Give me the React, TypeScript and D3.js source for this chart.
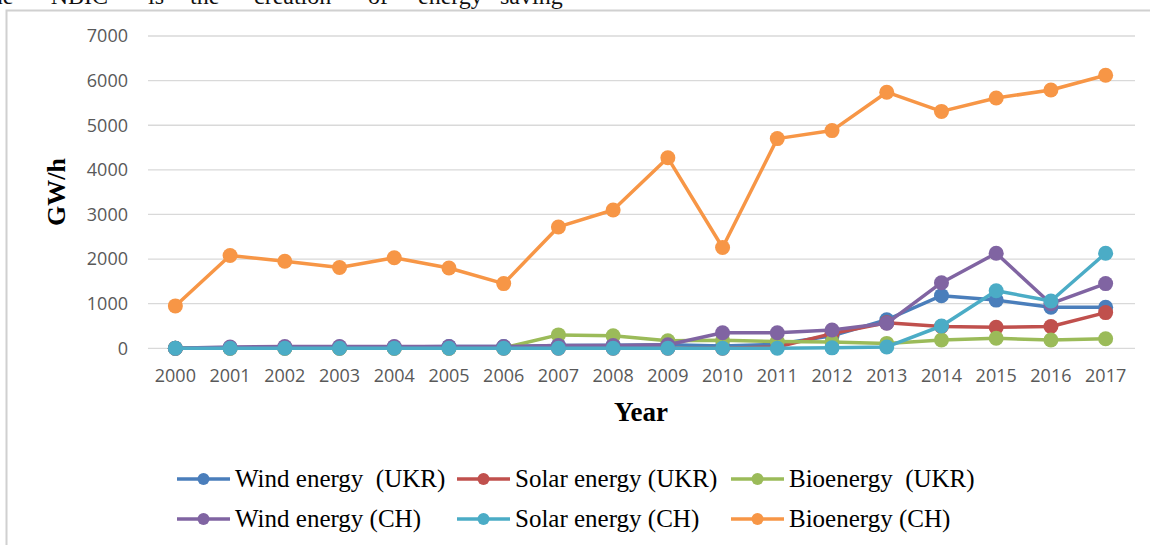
import React from "react";
import * as d3 from "d3";

const years = ["2000","2001","2002","2003","2004","2005","2006","2007","2008","2009","2010","2011","2012","2013","2014","2015","2016","2017"];
const windUKR = [0, 10, 20, 30, 30, 40, 40, 60, 70, 80, 50, 90, 280, 640, 1180, 1080, 920, 920];
const solarUKR = [0, 0, 0, 0, 0, 0, 0, 0, 0, 0, 0, 30, 330, 570, 490, 470, 490, 800];
const bioUKR = [0, 0, 0, 0, 0, 0, 10, 300, 280, 170, 180, 150, 140, 110, 185, 225, 185, 215];
const windCH = [0, 30, 40, 40, 40, 40, 40, 60, 60, 80, 350, 350, 410, 560, 1470, 2130, 1000, 1450];
const solarCH = [0, 0, 0, 0, 0, 0, 0, 0, 0, 0, 0, 0, 10, 30, 500, 1290, 1060, 2130];
const bioCH = [950, 2080, 1950, 1810, 2030, 1800, 1450, 2720, 3100, 4270, 2260, 4700, 4880, 5740, 5310, 5610, 5790, 6120];
const yTicks = [0, 1000, 2000, 3000, 4000, 5000, 6000, 7000];
const seriesNames = ["Wind energy  (UKR)", "Solar energy (UKR)", "Bioenergy  (UKR)", "Wind energy (CH)", "Solar energy (CH)", "Bioenergy (CH)"];
const seriesColors = ["#4a7ebb", "#c0504d", "#9bbb59", "#8064a2", "#4bacc6", "#f79646"];
const seriesValues = [windUKR, solarUKR, bioUKR, windCH, solarCH, bioCH];
const topWords = ["the", "\u201cNBIC\u201d", "is", "the", "creation", "of", "energy", "saving"];

export default function App() {
  const W = 1150, H = 545;
  const x = d3.scalePoint<string>().domain(years).range([148, 1133]).padding(0.5);
  const y = d3.scaleLinear().domain([0, 7000]).range([348.3, 36]);
  const line = d3.line<number>().x((_, i) => x(years[i]) as number).y((d) => y(d));

  const topX = [-16, 40, 148, 190, 254, 368, 418, 500];
  const legendCols = [177, 457, 731];
  const legendRows = [479, 519];

  return (
    <div style={{ position: "absolute", left: 0, top: 0 }}>
      <svg width={W} height={H} style={{ display: "block", background: "#fff" }}>
        <g fontFamily="'Liberation Serif', serif" fontSize={24} fill="#111">
          {topWords.map((w, i) => (
            <text key={i} x={topX[i]} y={4}>{w}</text>
          ))}
        </g>
        <rect x={6.5} y={10.5} width={1200} height={600} fill="none" stroke="#d0d0d0" strokeWidth={2} />
        {yTicks.map((t) => (
          <g key={t}>
            <line x1={148} x2={1135} y1={y(t)} y2={y(t)} stroke="#d9d9d9" strokeWidth={1.3} />
            <text x={128} y={y(t)} dy="0.35em" textAnchor="end" fontFamily="'Open Sans', sans-serif" fontSize={18} fill="#595959">{t}</text>
          </g>
        ))}
        {years.map((yr) => (
          <text key={yr} x={x(yr)} y={382} textAnchor="middle" fontFamily="'Open Sans', sans-serif" fontSize={18} fill="#595959">{yr}</text>
        ))}
        <text transform="translate(65,192) rotate(-90)" textAnchor="middle" fontFamily="'Liberation Serif', serif" fontWeight="bold" fontSize={26} fill="#000">GW/h</text>
        <text x={641} y={421} textAnchor="middle" fontFamily="'Liberation Serif', serif" fontWeight="bold" fontSize={27} fill="#000">Year</text>
        {seriesValues.map((vals, s) => (
          <g key={s}>
            <path d={line(vals) || ""} fill="none" stroke={seriesColors[s]} strokeWidth={3.5} strokeLinejoin="round" />
            {vals.map((v, i) => (
              <circle key={i} cx={x(years[i])} cy={y(v)} r={7.5} fill={seriesColors[s]} />
            ))}
          </g>
        ))}
        {seriesNames.map((n, s) => {
          const cx = legendCols[s % 3];
          const cy = legendRows[Math.floor(s / 3)];
          return (
            <g key={n}>
              <line x1={cx} x2={cx + 53} y1={cy} y2={cy} stroke={seriesColors[s]} strokeWidth={3.5} />
              <circle cx={cx + 26.5} cy={cy} r={6} fill={seriesColors[s]} />
              <text x={cx + 58} y={cy} dy="0.33em" fontFamily="'Liberation Serif', serif" fontSize={25} fill="#000" style={{ whiteSpace: "pre" }}>{n}</text>
            </g>
          );
        })}
      </svg>
    </div>
  );
}
